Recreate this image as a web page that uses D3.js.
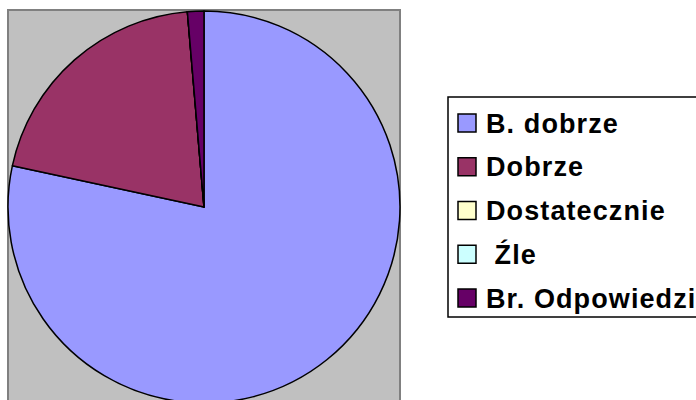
<!DOCTYPE html>
<html>
<head>
<meta charset="utf-8">
<script src="https://cdn.jsdelivr.net/npm/d3@7"></script>
<style>
  body { margin: 0; background: #fff; }
  svg { display: block; }
</style>
</head>
<body>
<div id="chart"></div>
<script>
// Chart data
const categories = ['B. dobrze', 'Dobrze', 'Dostatecznie', ' Źle', 'Br. Odpowiedzi'];
const values = [58, 15, 0, 0, 1];
const colors = ['#9999FF', '#993366', '#FFFFCC', '#CCFFFF', '#660066'];

const width = 696;
const height = 400;

const svg = d3.select('#chart')
    .append('svg')
    .attr('width', width)
    .attr('height', height);

// Plot area (grey background)
svg.append('rect')
    .attr('x', 8)
    .attr('y', 10)
    .attr('width', 392)
    .attr('height', 400)
    .attr('fill', '#C0C0C0')
    .attr('stroke', '#808080')
    .attr('stroke-width', 2);

// Pie
const cx = 204, cy = 207, radius = 196;
const color = d3.scaleOrdinal().domain(categories).range(colors);

const pie = d3.pie()
    .sort(null)
    .value((d, i) => values[i]);

const arc = d3.arc()
    .innerRadius(0)
    .outerRadius(radius);

svg.append('g')
    .attr('transform', `translate(${cx},${cy})`)
    .selectAll('path')
    .data(pie(categories))
    .enter()
    .append('path')
    .attr('d', arc)
    .attr('fill', d => color(d.data))
    .attr('stroke', '#000')
    .attr('stroke-width', 1.5)
    .attr('stroke-linejoin', 'round');

// Legend
const legend = svg.append('g');

legend.append('rect')
    .attr('x', 448)
    .attr('y', 97)
    .attr('width', 300)
    .attr('height', 220)
    .attr('fill', '#fff')
    .attr('stroke', '#000')
    .attr('stroke-width', 1.5);

const itemY = d3.scalePoint()
    .domain(categories)
    .range([123, 298]);

const items = legend.selectAll('g.item')
    .data(categories)
    .enter()
    .append('g')
    .attr('class', 'item')
    .attr('transform', d => `translate(0,${itemY(d)})`);

items.append('rect')
    .attr('x', 458)
    .attr('y', -9)
    .attr('width', 18)
    .attr('height', 18)
    .attr('fill', d => color(d))
    .attr('stroke', '#000')
    .attr('stroke-width', 1.5);

items.append('text')
    .attr('x', 486)
    .attr('y', 0)
    .attr('dy', '0.36em')
    .style('font-family', 'Arial, "Liberation Sans", sans-serif')
    .style('font-weight', 'bold')
    .style('font-size', '27px')
    .style('letter-spacing', '1.1px')
    .style('white-space', 'pre')
    .text(d => d);
</script>
</body>
</html>
